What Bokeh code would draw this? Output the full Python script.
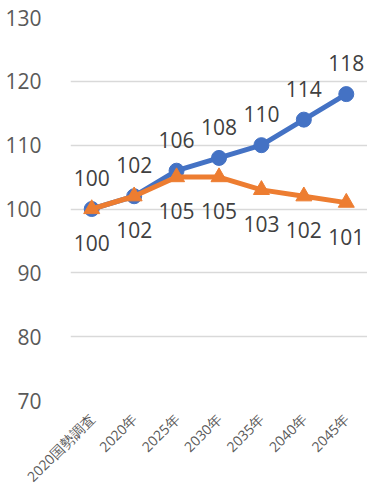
import math
from bokeh.plotting import figure
from bokeh.models import FactorRange, Range1d, ColumnDataSource, FixedTicker
from bokeh.core.properties import value
from bokeh.embed import file_html
from bokeh.resources import INLINE

categories = ["2020国勢調査", "2020年", "2025年", "2030年", "2035年", "2040年", "2045年"]
series_a = [100, 102, 106, 108, 110, 114, 118]
series_b = [100, 102, 105, 105, 103, 102, 101]
y_ticks = [70, 80, 90, 100, 110, 120, 130]

BLUE = "#4472C4"
ORANGE = "#ED7D31"
FONT = "Open Sans"

p = figure(width=367, height=497, x_range=FactorRange(*categories, range_padding=0),
           y_range=Range1d(70, 130), output_backend="svg", toolbar_location=None,
           min_border_left=70, min_border_top=17, min_border_right=0, min_border_bottom=97)
p.outline_line_color = None
p.background_fill_color = "white"
p.border_fill_color = "white"

p.xgrid.grid_line_color = None
p.ygrid.grid_line_color = "#D9D9D9"
p.ygrid.grid_line_width = 1.5
p.yaxis.ticker = FixedTicker(ticks=y_ticks)

for ax in (p.xaxis[0], p.yaxis[0]):
    ax.axis_line_color = None
    ax.major_tick_line_color = None
    ax.minor_tick_line_color = None
    ax.major_label_text_color = "#595959"
    ax.major_label_text_font = FONT

p.yaxis.major_label_text_font_size = "21px"
p.yaxis.major_label_standoff = 23
p.xaxis.major_label_text_font_size = "14px"
p.xaxis.major_label_orientation = math.pi / 4
p.xaxis.major_label_standoff = 10

src_a = ColumnDataSource(dict(x=categories, y=series_a, t=[str(v) for v in series_a]))
src_b = ColumnDataSource(dict(x=categories, y=series_b, t=[str(v) for v in series_b]))

p.line("x", "y", source=src_a, line_color=BLUE, line_width=5)
p.scatter("x", "y", source=src_a, marker="circle", size=15, fill_color=BLUE, line_color=BLUE)
p.line("x", "y", source=src_b, line_color=ORANGE, line_width=5)
p.scatter("x", "y", source=src_b, marker="triangle", size=16, fill_color=ORANGE, line_color=ORANGE)

p.text("x", "y", text="t", source=src_a, y_offset=-31, text_align="center", text_baseline="middle",
       text_font=value(FONT), text_font_size="21px", text_color="#404040")
p.text("x", "y", text="t", source=src_b, y_offset=34, text_align="center", text_baseline="middle",
       text_font=value(FONT), text_font_size="21px", text_color="#404040")

open("out.html", "w").write(file_html(p, INLINE))
